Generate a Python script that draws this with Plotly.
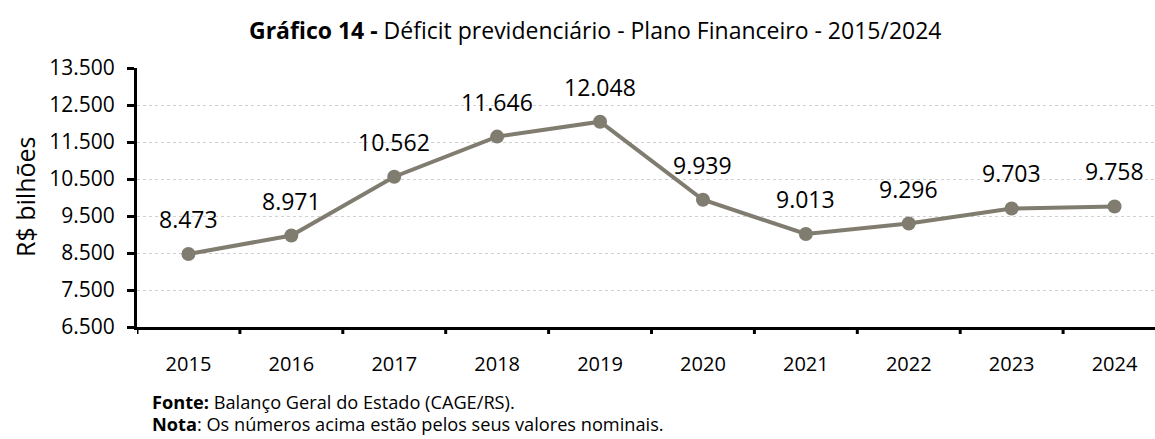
import plotly.graph_objects as go

years = ["2015", "2016", "2017", "2018", "2019", "2020", "2021", "2022", "2023", "2024"]
values = [8473, 8971, 10562, 11646, 12048, 9939, 9013, 9296, 9703, 9758]
value_labels = ["8.473", "8.971", "10.562", "11.646", "12.048", "9.939", "9.013", "9.296", "9.703", "9.758"]
y_tickvals = [6500, 7500, 8500, 9500, 10500, 11500, 12500, 13500]
y_ticktext = ["6.500", "7.500", "8.500", "9.500", "10.500", "11.500", "12.500", "13.500"]

FONT = "Open Sans"
LINE_COLOR = "rgb(128,124,112)"

W, H = 1155, 439
L, R, T, B = 137, 0, 68, 112
pw = W - L - R
ph = H - T - B

def px_x(p):
    return (p - L) / pw

def px_y(p):
    return (H - B - p) / ph

idx = list(range(len(years)))

fig = go.Figure()
fig.add_trace(go.Scatter(
    x=idx, y=values, mode="lines+markers",
    line=dict(color=LINE_COLOR, width=4),
    marker=dict(color=LINE_COLOR, size=14),
    hoverinfo="skip", showlegend=False,
))

for i, v, lab in zip(idx, values, value_labels):
    fig.add_annotation(x=i, y=v, text=lab, showarrow=False, yshift=35,
                       font=dict(family=FONT, size=23, color="black"),
                       xanchor="center", yanchor="middle")

cat_w = 102.9
x_right = -0.5 + pw / cat_w
bounds = [i - 0.5 for i in range(len(years) + 1)]

fig.update_layout(
    width=W, height=H,
    margin=dict(l=L, r=R, t=T, b=B),
    paper_bgcolor="white", plot_bgcolor="white",
    font=dict(family=FONT, color="black"),
    xaxis=dict(
        range=[-0.5, x_right],
        tickvals=idx, ticktext=years,
        showline=True, linecolor="black", linewidth=3,
        ticks="", showgrid=False, zeroline=False,
        tickfont=dict(family=FONT, size=20, color="black"),
        ticklabelstandoff=17,
    ),
    yaxis=dict(
        range=[6500, 13500], tickvals=y_tickvals, ticktext=y_ticktext,
        showline=True, linecolor="black", linewidth=3,
        ticks="outside", ticklen=7, tickwidth=3, tickcolor="black",
        showgrid=True, gridcolor="#d0d0d0", gridwidth=1, griddash="dot",
        zeroline=False, tickfont=dict(family=FONT, size=21, color="black"),
        ticklabelstandoff=8,
    ),
)

# tick marks at category boundaries on the x axis
for b in bounds:
    fig.add_shape(type="line", xref="x", yref="paper", x0=b, x1=b, y0=0, y1=-7 / ph,
                  line=dict(color="black", width=3))

fig.add_annotation(xref="paper", yref="paper", x=px_x(595), y=px_y(30),
                   text="<b>Gráfico 14 -</b> Déficit previdenciário - Plano Financeiro - 2015/2024",
                   showarrow=False, xanchor="center", yanchor="middle",
                   font=dict(family=FONT, size=23, color="black"))
fig.add_annotation(xref="paper", yref="paper", x=px_x(25), y=px_y(197),
                   text="R$ bilhões", textangle=-90, showarrow=False,
                   xanchor="center", yanchor="middle",
                   font=dict(family=FONT, size=25, color="black"))
fig.add_annotation(xref="paper", yref="paper", x=px_x(150), y=px_y(402),
                   text="<b>Fonte:</b> Balanço Geral do Estado (CAGE/RS).",
                   showarrow=False, xanchor="left", yanchor="middle",
                   font=dict(family=FONT, size=18.2, color="black"))
fig.add_annotation(xref="paper", yref="paper", x=px_x(150), y=px_y(424),
                   text="<b>Nota</b>: Os números acima estão pelos seus valores nominais.",
                   showarrow=False, xanchor="left", yanchor="middle",
                   font=dict(family=FONT, size=18.2, color="black"))

fig.write_html("out.html", config={"displayModeBar": False},
               post_script="document.body.style.margin='0';document.body.style.overflow='hidden';")
